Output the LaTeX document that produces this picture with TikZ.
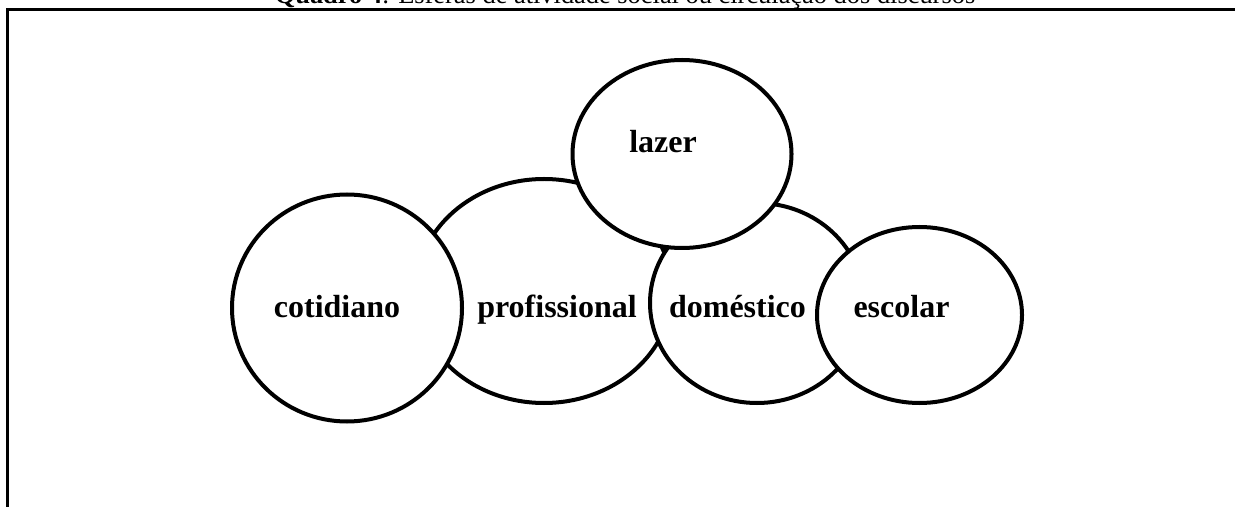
\documentclass[tikz,border=0pt]{standalone}
\usepackage{fontspec}
\setmainfont{Liberation Serif}
\tikzset{
  esfera/.style={draw=black,line width=2pt,fill=white,ellipse,inner sep=0,outer sep=0},
  rotulo/.style={font=\fontsize{16}{19}\selectfont\bfseries,anchor=base,inner sep=0},
}
\usetikzlibrary{shapes.geometric}
\begin{document}
\begin{tikzpicture}[x=0.5pt,y=-0.5pt]
  \useasboundingbox (0,0) rectangle (1235,507);
  % titulo e moldura
  \node[font=\fontsize{13.2}{16}\selectfont,anchor=base,inner sep=0] (titulo) at (625,4)
    {\textbf{Quadro 4}: Esferas de atividade social ou circulação dos discursos};
  \draw[line width=1.5pt] (1260,9.5) -- (7,9.5) -- (7,530);
  % esferas
  \node[esfera,minimum width=128pt,minimum height=112pt] (profissional) at (544,291) {};
  \node[esfera,minimum width=115pt,minimum height=113.5pt] (cotidiano) at (347,308) {};
  \node[esfera,minimum width=107pt,minimum height=100pt] (domestico) at (757,303) {};
  \node[esfera,minimum width=109.5pt,minimum height=94pt] (lazer) at (682,154) {};
  \node[esfera,minimum width=102.5pt,minimum height=88pt] (escolar) at (919.5,315) {};
  \node[rotulo] (t-cotidiano) at (337,318) {cotidiano};
  \node[rotulo] (t-profissional) at (557,318) {profissional};
  \node[rotulo] (t-lazer) at (663,153) {lazer};
  \node[rotulo] (t-domestico) at (737.5,318) {doméstico};
  \node[rotulo] (t-escolar) at (901.5,318) {escolar};
\end{tikzpicture}
\end{document}
